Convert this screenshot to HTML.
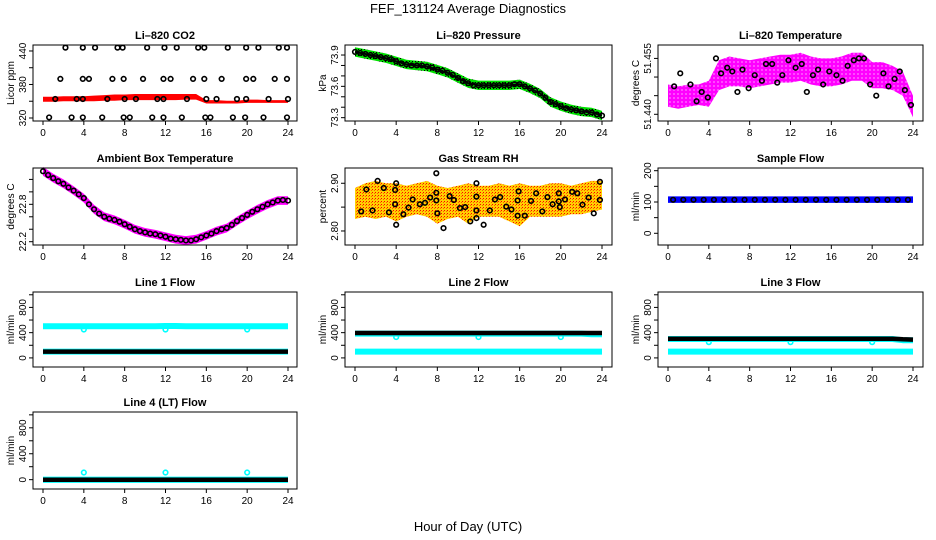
<!DOCTYPE html>
<html><head><meta charset="utf-8">
<style>
html,body{margin:0;padding:0;background:#fff;}
svg{display:block;font-family:"Liberation Sans",Arial,sans-serif;}
.tick{font-size:10px;fill:#000;}
.ttl{font-size:11px;font-weight:bold;fill:#000;}
.ylab{font-size:10px;fill:#000;}
</style></head>
<body>
<svg id="chart" width="936" height="540" viewBox="0 0 936 540">
<defs>
<pattern id="patMag" width="4" height="4" patternUnits="userSpaceOnUse"><rect width="4" height="4" fill="#ff00ff"/><circle cx="2" cy="2" r="0.6" fill="#fff"/></pattern>
<pattern id="patRH" width="3" height="3" patternUnits="userSpaceOnUse"><rect width="3" height="3" fill="#ffd000"/><rect x="0" y="0" width="1" height="1" fill="#ff0000"/><rect x="2" y="1" width="1" height="1" fill="#ff6000"/></pattern>
<pattern id="patGrn" width="3" height="3" patternUnits="userSpaceOnUse"><rect width="3" height="3" fill="#00e000"/><rect x="1" y="1" width="1" height="1" fill="#000"/></pattern>
</defs>
<text x="468" y="13" text-anchor="middle" font-size="13">FEF_131124  Average Diagnostics</text>
<text x="468" y="531" text-anchor="middle" font-size="13">Hour of Day (UTC)</text>
<g id="panels"></g>
</svg>
<script>
// ---- data ----
const hours = [0,1,2,3,4,5,6,7,8,9,10,11,12,13,14,15,16,17,18,19,20,21,22,23,24];
const halfHours = [0.5,1.5,2.5,3.5,4.5,5.5,6.5,7.5,8.5,9.5,10.5,11.5,12.5,13.5,14.5,15.5,16.5,17.5,18.5,19.5,20.5,21.5,22.5,23.5];
const xTicks = [0,4,8,12,16,20,24];

const co2Lower = [349,349,350,350,350,350,351,351,352,352,352,352,352,352,353,353,346,346,346,346,347,347,347,347,347];
const co2Upper = [358,358,359,359,359,360,361,362,362,363,363,363,363,363,363,363,352,352,351,351,353,353,352,352,352];
const co2PtT = [2.2,3.9,5.1,7.3,7.8,10.2,11.9,13.1,15.2,15.8,18.1,19.9,21.1,23.1,23.9, 1.7,3.9,4.5,6.8,7.9,9.8,11.8,12.5,14.7,15.8,17.5,19.9,20.6,22.7,23.9, 1.2,3.3,3.9,6.3,8,9.1,11.2,11.8,14.1,16,17,19,19.9,22.1,24, 0.6,2.8,3.9,5.8,7.9,8.5,10.7,11.8,13.6,15.9,16.4,18.6,19.8,21.6,23.9];
const co2PtV = [446,446,446,446,446,446,446,446,446,446,446,446,446,446,446, 390,390,390,390,390,390,390,390,390,390,390,390,390,390,390, 354,354,354,354,354,354,354,354,354,354,354,354,354,354,354, 321,321,321,321,321,321,321,321,321,321,321,321,321,321,321];

const presMid = [73.93,73.91,73.89,73.87,73.84,73.81,73.80,73.79,73.76,73.73,73.68,73.63,73.61,73.61,73.61,73.61,73.62,73.58,73.53,73.45,73.41,73.38,73.36,73.35,73.32];
const presHalf = [73.92,73.90,73.88,73.86,73.82,73.80,73.80,73.78,73.75,73.71,73.65,73.61,73.61,73.61,73.61,73.62,73.60,73.56,73.49,73.43,73.39,73.37,73.35,73.33];

const tempLower = [51.4420,51.4415,51.4420,51.4425,51.4420,51.4465,51.4475,51.4475,51.4470,51.4475,51.4480,51.4485,51.4485,51.4490,51.4480,51.4475,51.4475,51.4480,51.4490,51.4490,51.4470,51.4470,51.4465,51.4450,51.4392];
const tempUpper = [51.4480,51.4475,51.4480,51.4480,51.4490,51.4545,51.4555,51.4550,51.4545,51.4550,51.4555,51.4560,51.4560,51.4565,51.4555,51.4550,51.4550,51.4555,51.4565,51.4565,51.4540,51.4540,51.4530,51.4515,51.4450];
const tempPtT = [0.6,1.2,2.2,2.8,3.3,3.9,4.7,5.2,5.8,6.3,6.8,7.3,7.9,8.5,9.2,9.6,10.2,10.7,11.2,11.8,12.5,13.1,13.6,14.2,14.7,15.2,15.8,16.5,17.1,17.6,18.2,18.7,19.2,19.8,20.4,21.1,21.6,22.2,22.7,23.2,23.8];
const tempPtV = [51.4475,51.4510,51.4480,51.4435,51.4460,51.4445,51.4550,51.4510,51.4525,51.4515,51.4460,51.4520,51.4470,51.4505,51.4490,51.4535,51.4535,51.4485,51.4505,51.4545,51.4525,51.4535,51.4460,51.4505,51.4520,51.4480,51.4515,51.4505,51.4490,51.4530,51.4545,51.4550,51.4550,51.4480,51.4450,51.4510,51.4475,51.4495,51.4515,51.4465,51.4425];

const ambMid = [23.33,23.22,23.13,23.02,22.90,22.72,22.60,22.55,22.48,22.40,22.35,22.32,22.28,22.24,22.22,22.24,22.30,22.37,22.42,22.53,22.63,22.72,22.80,22.86,22.86];
const ambHalf = [23.27,23.17,23.07,22.96,22.80,22.65,22.57,22.52,22.44,22.37,22.33,22.30,22.25,22.23,22.22,22.27,22.33,22.40,22.47,22.58,22.68,22.76,22.83,22.87];

const rhLower = [2.825,2.830,2.825,2.830,2.820,2.830,2.835,2.830,2.815,2.825,2.830,2.815,2.830,2.830,2.830,2.820,2.810,2.830,2.830,2.830,2.830,2.835,2.835,2.840,2.845];
const rhUpper = [2.890,2.900,2.905,2.900,2.900,2.895,2.900,2.905,2.895,2.890,2.895,2.900,2.895,2.895,2.900,2.895,2.900,2.895,2.895,2.900,2.900,2.895,2.900,2.905,2.905];
const rhPtT = [0.6,1.1,1.7,2.2,2.8,3.3,3.9,4,4,3.9,4.7,5.2,5.6,6.3,6.8,7.3,7.9,7.9,8,7.9,8.6,9.2,9.6,10.2,10.7,11.2,11.8,11.8,11.8,11.8,12.5,13.1,13.6,14.1,14.7,15.2,15.8,15.9,15.8,16.5,17.1,17.6,18.2,18.7,19.2,19.8,19.8,19.9,20.4,21.1,21.6,22.1,22.7,23.2,23.8,23.8];
const rhPtV = [2.841,2.887,2.843,2.905,2.890,2.839,2.886,2.900,2.813,2.856,2.835,2.849,2.866,2.856,2.859,2.870,2.880,2.864,2.837,2.921,2.806,2.873,2.865,2.848,2.850,2.820,2.827,2.843,2.872,2.900,2.813,2.843,2.866,2.871,2.851,2.845,2.864,2.883,2.832,2.832,2.863,2.879,2.841,2.871,2.856,2.879,2.862,2.850,2.866,2.882,2.879,2.855,2.870,2.837,2.903,2.865];

const sampleLower = [97,97,97,97,97,97,97,97,97,97,97,97,97,97,97,97,97,97,97,97,97,97,97,97,97];
const sampleUpper = [118,118,118,118,118,118,118,118,118,118,118,118,118,118,118,118,118,118,118,118,118,118,118,118,118];
const sampleBlack = [107,107,107,107,107,107,107,107,107,107,107,107,107,107,107,107,107,107,107,107,107,107,107,107,107];

const line1Hi = [500,500,500,500,500,500,500,500,500,500,500,500,505,505,500,500,500,500,500,500,500,500,500,500,500];
const line1Lo = [100,100,100,100,100,100,100,100,100,100,100,100,100,100,100,100,100,100,100,100,100,100,100,100,100];
const line1Black = [100,100,100,100,100,100,100,100,100,100,100,100,100,100,100,100,100,100,100,100,100,100,100,100,100];
const line1SpikeT = [4,12,20];
const line1SpikeV = [450,450,450];

const line2Hi = [385,385,385,385,385,385,385,385,385,385,385,385,385,385,385,385,385,385,385,385,385,385,385,375,375];
const line2Lo = [100,100,100,100,100,100,100,100,100,100,100,100,100,100,100,100,100,100,100,100,100,100,100,100,100];
const line2Black = [395,395,395,395,395,395,395,395,395,395,395,395,395,395,395,395,395,395,395,395,395,395,395,395,395];
const line2SpikeT = [4,12,20];
const line2SpikeV = [330,330,330];

const line3Hi = [300,300,300,300,300,300,300,300,300,300,300,300,300,300,300,300,300,300,300,300,300,300,300,280,280];
const line3Lo = [100,100,100,100,100,100,100,100,100,100,100,100,100,100,100,100,100,100,100,100,100,100,100,100,100];
const line3Black = [305,305,305,305,305,305,305,305,305,305,305,305,305,305,305,305,305,305,305,305,305,305,305,295,290];
const line3SpikeT = [4,12,20];
const line3SpikeV = [250,250,250];

const line4Hi = [0,0,0,0,0,0,0,0,0,0,0,0,0,0,0,0,0,0,0,0,0,0,0,0,0];
const line4Lo = [0,0,0,0,0,0,0,0,0,0,0,0,0,0,0,0,0,0,0,0,0,0,0,0,0];
const line4Black = [0,0,0,0,0,0,0,0,0,0,0,0,0,0,0,0,0,0,0,0,0,0,0,0,0];
const line4SpikeT = [4,12,20];
const line4SpikeV = [110,110,110];

const flowTicks = [0,200,400,600,800,1000];
const flowLabels = ['0','','400','','800',''];

// ---- layout ----
const NS = 'http://www.w3.org/2000/svg';
const cols = [{l:33,r:297,x0:43,x1:288},{l:345,r:612,x0:355,x1:602},{l:658,r:923,x0:668,x1:913}];
const rows = [{t:45,b:121},{t:168,b:245},{t:292,b:367},{t:412,b:489}];
const root = document.getElementById('panels');

function mk(tag, attrs, parent){
  const e = document.createElementNS(NS, tag);
  for (const k in attrs) e.setAttribute(k, attrs[k]);
  parent.appendChild(e);
  return e;
}

function panel(ci, ri, title, ylab, ymin, ymax, ticks, labels, name){
  const c = cols[ci], r = rows[ri];
  const g = mk('g', {}, root);
  
  
  const xs = h => c.x0 + (c.x1 - c.x0) * h / 24;
  const ys = v => r.b - (r.b - r.t) * (v - ymin) / (ymax - ymin);
  const plot = mk('g', {}, g);
  
  
  const finish = () => {
    const box = mk('rect', {x:c.l, y:r.t, width:c.r-c.l, height:r.b-r.t, fill:'none', stroke:'#000', 'stroke-width':1}, g);
    
    
    const xa = mk('g', {}, g);
    
    
    mk('line', {x1:xs(0), x2:xs(24), y1:r.b, y2:r.b, stroke:'#000'}, xa);
    xTicks.forEach(t => {
      mk('line', {x1:xs(t), x2:xs(t), y1:r.b, y2:r.b+4, stroke:'#000'}, xa);
      const tx = mk('text', {x:xs(t), y:r.b+15, 'text-anchor':'middle', class:'tick'}, xa);
      tx.textContent = t;
    });
    const ya = mk('g', {}, g);
    
    
    mk('line', {x1:c.l, x2:c.l, y1:ys(ticks[0]), y2:ys(ticks[ticks.length-1]), stroke:'#000'}, ya);
    ticks.forEach((t, i) => {
      const y = ys(t);
      mk('line', {x1:c.l-4, x2:c.l, y1:y, y2:y, stroke:'#000'}, ya);
      if (labels[i]) {
        const tx = mk('text', {x:c.l-7, y:y, 'text-anchor':'middle', class:'tick', transform:`rotate(-90 ${c.l-7} ${y})`}, ya);
        tx.textContent = labels[i];
      }
    });
    const yl = mk('text', {x:c.l-19, y:(r.t+r.b)/2, 'text-anchor':'middle', class:'ylab', transform:`rotate(-90 ${c.l-19} ${(r.t+r.b)/2})`}, g);
    yl.textContent = ylab;
    
    
    const tt = mk('text', {x:(c.l+c.r)/2, y:r.t-6, 'text-anchor':'middle', class:'ttl'}, g);
    tt.textContent = title;
    
    
  };
  return {xs, ys, plot, finish, name};
}

function band(p, lower, upper, fill, label){
  let d = '';
  hours.forEach((h, i) => { d += (i ? 'L' : 'M') + p.xs(h).toFixed(1) + ',' + p.ys(upper[i]).toFixed(1); });
  for (let i = hours.length - 1; i >= 0; i--) d += 'L' + p.xs(hours[i]).toFixed(1) + ',' + p.ys(lower[i]).toFixed(1);
  const e = mk('path', {d: d + 'Z', fill: fill, stroke: 'none'}, p.plot);
  
  
}
function thickLine(p, vals, color, w, label){
  const pts = hours.map((h, i) => p.xs(h).toFixed(1) + ',' + p.ys(vals[i]).toFixed(1)).join(' ');
  const e = mk('polyline', {points: pts, fill:'none', stroke: color, 'stroke-width': w, 'stroke-linejoin':'round'}, p.plot);
  
  
}
function points(p, ts, vs, color, label){
  ts.forEach((t, i) => {
    const e = mk('circle', {cx: p.xs(t), cy: p.ys(vs[i]), r: 2.3, fill:'none', stroke: color, 'stroke-width': 1.6}, p.plot);
    
    
  });
}

// Li-820 CO2
let p = panel(0, 0, 'Li\u2013820 CO2', 'Licor ppm', 314.6, 450.7, [320,350,380,410,440], ['320','','380','','440'], 'co2');
band(p, co2Lower, co2Upper, '#ff0000', 'co2-raw-band');
points(p, co2PtT, co2PtV, '#000', 'co2-average-point');
p.finish();

// Li-820 Pressure
p = panel(1, 0, 'Li\u2013820 Pressure', 'kPa', 73.268, 73.996, [73.3,73.4,73.5,73.6,73.7,73.8,73.9], ['73.3','','','73.6','','','73.9'], 'pressure');
band(p, presMid.map(v => v - 0.045), presMid.map(v => v + 0.045), 'url(#patGrn)', 'pressure-raw-band');
thickLine(p, presMid, '#000', 2, 'pressure-average-line');
points(p, hours, presMid, '#000', 'pressure-average-point');
points(p, halfHours, presHalf, '#000', 'pressure-average-point');
p.finish();

// Li-820 Temperature
p = panel(2, 0, 'Li\u2013820 Temperature', 'degrees C', 51.4382, 51.4586, [51.440,51.445,51.450,51.455], ['51.440','','','51.455'], 'li820-temp');
band(p, tempLower, tempUpper, 'url(#patMag)', 'li820-temp-raw-band');
points(p, tempPtT, tempPtV, '#000', 'li820-temp-average-point');
p.finish();

// Ambient Box Temperature
p = panel(0, 1, 'Ambient Box Temperature', 'degrees C', 22.147, 23.383, [22.2,22.4,22.6,22.8,23.0,23.2], ['22.2','','','22.8','',''], 'ambient-temp');
band(p, ambMid.map(v => v - 0.07), ambMid.map(v => v + 0.07), '#ff00ff', 'ambient-temp-raw-band');
points(p, hours, ambMid, '#000', 'ambient-temp-average-point');
points(p, halfHours, ambHalf, '#000', 'ambient-temp-average-point');
p.finish();

// Gas Stream RH
p = panel(1, 1, 'Gas Stream RH', 'percent', 2.7706, 2.932, [2.80,2.85,2.90], ['2.80','','2.90'], 'rh');
band(p, rhLower, rhUpper, 'url(#patRH)', 'rh-raw-band');
points(p, rhPtT, rhPtV, '#000', 'rh-average-point');
p.finish();

// Sample Flow
p = panel(2, 1, 'Sample Flow', 'ml/min', -37.4, 208.6, [0,50,100,150,200], ['0','','100','','200'], 'sample-flow');
band(p, sampleLower, sampleUpper, '#0000ff', 'sample-flow-raw-band');
points(p, halfHours, sampleBlack, '#000', 'sample-flow-average-point');
p.finish();

// Line flows
const flows = [
  [0,2,'Line 1 Flow',line1Hi,line1Lo,line1Black,line1SpikeT,line1SpikeV,'line1-flow'],
  [1,2,'Line 2 Flow',line2Hi,line2Lo,line2Black,line2SpikeT,line2SpikeV,'line2-flow'],
  [2,2,'Line 3 Flow',line3Hi,line3Lo,line3Black,line3SpikeT,line3SpikeV,'line3-flow'],
  [0,3,'Line 4 (LT) Flow',line4Hi,line4Lo,line4Black,line4SpikeT,line4SpikeV,'line4-flow']
];
flows.forEach(f => {
  const q = panel(f[0], f[1], f[2], 'ml/min', -144, 1044, flowTicks, flowLabels, f[8]);
  thickLine(q, f[3], '#00ffff', 6, f[8] + '-raw-high');
  thickLine(q, f[4], '#00ffff', 6, f[8] + '-raw-low');
  points(q, f[6], f[7], '#00ffff', f[8] + '-raw-spike');
  thickLine(q, f[5], '#000', 4.5, f[8] + '-average-line');
  q.finish();
});
</script>
</body></html>
